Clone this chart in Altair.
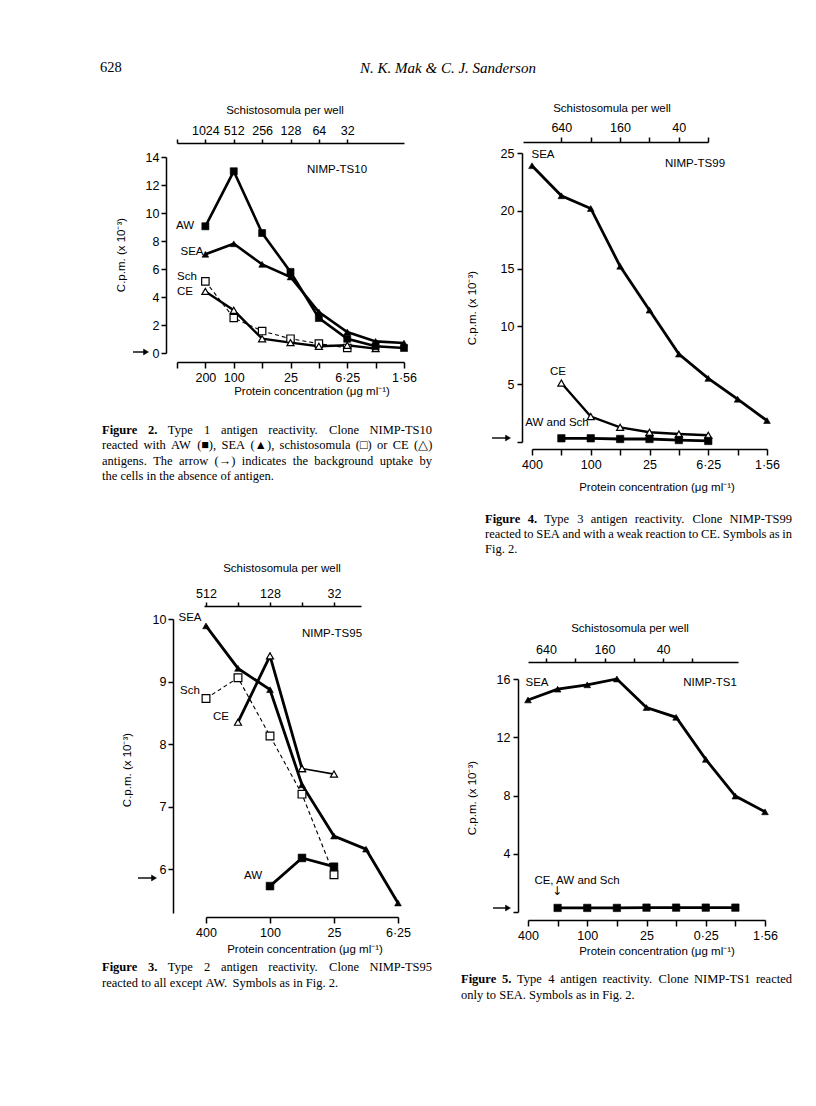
import altair as alt
import pandas as pd

M = 8                     # page margin
W, H = 800, 1090          # drawing area
SANS = "Liberation Sans"
SERIF = "Liberation Serif"

# ---------------- Figure 2 : NIMP-TS10 ----------------
f2_aw_conc = [200, 100, 50, 25, 12.5, 6.25, 3.125, 1.5625]
f2_aw = [9.05, 12.98, 8.57, 5.79, 2.50, 1.02, 0.48, 0.36]
f2_sea_conc = [200, 100, 50, 25, 12.5, 6.25, 3.125, 1.5625]
f2_sea = [7.05, 7.80, 6.33, 5.43, 2.93, 1.50, 0.83, 0.71]
f2_sch_conc = [200, 100, 50, 25, 12.5, 6.25]
f2_sch = [5.12, 2.50, 1.57, 1.02, 0.67, 0.36]
f2_ce_conc = [200, 100, 50, 25, 12.5, 6.25, 3.125]
f2_ce = [4.40, 3.05, 1.02, 0.74, 0.48, 0.55, 0.31]
f2_x_ticks = [400, 200, 100, 50, 25, 12.5, 6.25, 3.125, 1.5625]
f2_x_labels = ["", "200", "100", "", "25", "", "6·25", "", "1·56"]
f2_top_ticks = [2048, 1024, 512, 256, 128, 64, 32]
f2_top_labels = ["", "1024", "512", "256", "128", "64", "32"]
f2_y_ticks = [0, 2, 4, 6, 8, 10, 12, 14]
f2_y_labels = ["0", "2", "4", "6", "8", "10", "12", "14"]

# ---------------- Figure 4 : NIMP-TS99 ----------------
f4_sea_conc = [400, 200, 100, 50, 25, 12.5, 6.25, 3.125, 1.5625]
f4_sea = [23.9, 21.3, 20.2, 15.2, 11.4, 7.6, 5.5, 3.7, 1.85]
f4_ce_conc = [200, 100, 50, 25, 12.5, 6.25]
f4_ce = [5.1, 2.2, 1.27, 0.84, 0.69, 0.58]
f4_awsch_conc = [200, 100, 50, 25, 12.5, 6.25]
f4_awsch = [0.32, 0.32, 0.26, 0.26, 0.17, 0.09]
f4_x_ticks = [400, 200, 100, 50, 25, 12.5, 6.25, 3.125, 1.5625]
f4_x_labels = ["400", "", "100", "", "25", "", "6·25", "", "1·56"]
f4_top_ticks = [640, 320, 160, 80, 40, 20]
f4_top_labels = ["640", "", "160", "", "40", ""]
f4_y_ticks = [0, 5, 10, 15, 20, 25]
f4_y_labels = ["", "5", "10", "15", "20", "25"]

# ---------------- Figure 3 : NIMP-TS95 ----------------
f3_sea_conc = [400, 200, 100, 50, 25, 12.5, 6.25]
f3_sea = [9.89, 9.21, 8.87, 7.35, 6.53, 6.32, 5.46]
f3_sch_conc = [400, 200, 100, 50, 25]
f3_sch = [8.73, 9.06, 8.13, 7.20, 5.91]
f3_ce_conc = [200, 100, 50, 25]
f3_ce = [8.35, 9.41, 7.61, 7.52]
f3_aw_conc = [100, 50, 25]
f3_aw = [5.73, 6.18, 6.04]
f3_x_ticks = [400, 100, 25, 6.25]
f3_x_labels = ["400", "100", "25", "6·25"]
f3_top_ticks = [512, 256, 128, 64, 32]
f3_top_labels = ["512", "", "128", "", "32"]
f3_y_ticks = [6, 7, 8, 9, 10]
f3_y_labels = ["6", "7", "8", "9", "10"]

# ---------------- Figure 5 : NIMP-TS1 ----------------
f5_sea_conc = [400, 200, 100, 50, 25, 12.5, 6.25, 3.125, 1.5625]
f5_sea = [14.56, 15.3, 15.6, 16.0, 14.04, 13.37, 10.48, 7.96, 6.88]
f5_rest_conc = [200, 100, 50, 25, 12.5, 6.25, 3.125]
f5_rest = [0.28, 0.28, 0.28, 0.30, 0.30, 0.30, 0.30]
f5_x_ticks = [400, 200, 100, 50, 25, 12.5, 6.25, 3.125, 1.5625]
f5_x_labels = ["400", "", "100", "", "25", "", "0·25", "", "1·56"]
f5_top_ticks = [640, 320, 160, 80, 40, 20]
f5_top_labels = ["640", "", "160", "", "40", ""]
f5_y_ticks = [0, 4, 8, 12, 16]
f5_y_labels = ["", "4", "8", "12", "16"]

# ---------------- captions ----------------
cap2 = ["Figure 2.", "Type 1 antigen reactivity. Clone NIMP-TS10",
        "reacted with AW (■), SEA (▲), schistosomula (□) or CE (△)",
        "antigens. The arrow (→) indicates the background uptake by",
        "the cells in the absence of antigen."]
cap4 = ["Figure 4.", "Type 3 antigen reactivity. Clone NIMP-TS99",
        "reacted to SEA and with a weak reaction to CE. Symbols as in",
        "Fig. 2."]
cap3 = ["Figure 3.", "Type 2 antigen reactivity. Clone NIMP-TS95",
        "reacted to all except AW. Symbols as in Fig. 2."]
cap5 = ["Figure 5.", "Type 4 antigen reactivity. Clone NIMP-TS1 reacted",
        "only to SEA. Symbols as in Fig. 2."]


# ---------------- helpers ----------------
def lexpr(values, labels):
    expr = "''"
    for v, l in zip(values, labels):
        expr = f"abs(datum.value - {v}) < 1e-6 ? '{l}' : ({expr})"
    return expr


def axis(orient, offset, values, labels, tick=5, pad=2, size=12.5):
    return alt.Axis(orient=orient, offset=offset, values=values,
                    labelExpr=lexpr(values, labels), title="", grid=False,
                    domainColor="black", domainWidth=1.5, tickColor="black",
                    tickWidth=1.5, tickSize=tick, labelPadding=pad,
                    labelFont=SANS, labelFontSize=size, labelColor="black",
                    labelFlush=False, labelOverlap=False, labelAngle=0)


def logx(domain, r0, r1):
    return alt.Scale(type="log", base=2, domain=domain, range=[r0 - M, r1 - M], nice=False)


def liny(domain, r0, r1):
    return alt.Scale(type="linear", domain=domain, range=[r0 - M, r1 - M], nice=False)


def series(conc, vals, xs, ys, xa, ya, shape, filled, lw=2.6, dash=None, size=50):
    df = pd.DataFrame({"conc": conc, "cpm": vals})
    enc = dict(x=alt.X("conc:Q", scale=xs, axis=xa), y=alt.Y("cpm:Q", scale=ys, axis=ya))
    lp = dict(color="black", strokeWidth=lw)
    if dash:
        lp["strokeDash"] = dash
    line = alt.Chart(df).mark_line(**lp).encode(**enc)
    if filled:
        pt = alt.Chart(df).mark_point(shape=shape, filled=True, fill="black", stroke="black",
                                      strokeWidth=0.6, size=size, opacity=1).encode(**enc)
    else:
        pt = alt.Chart(df).mark_point(shape=shape, filled=True, fill="white", stroke="black",
                                      strokeWidth=1.2, size=size, opacity=1).encode(**enc)
    return line, pt


def top_axis(ticks, labels, domain, r0, r1, ypos, tick=4, pad=2):
    df = pd.DataFrame({"s": ticks})
    return alt.Chart(df).mark_point(opacity=0).encode(
        x=alt.X("s:Q", scale=logx(domain, r0, r1),
                axis=axis("top", -(ypos - M), ticks, labels, tick=tick, pad=pad)))


def txt(s, x, y, size=11.5, font=SANS, align="center", baseline="middle", angle=0,
        weight="normal", style="normal"):
    return alt.Chart(pd.DataFrame({"t": [s]})).mark_text(
        align=align, baseline=baseline, font=font, fontSize=size, fontWeight=weight,
        fontStyle=style, angle=angle, color="black").encode(
        x=alt.value(x - M), y=alt.value(y - M), text="t:N")


def arrow(x0, x1, y):
    d = pd.DataFrame({"a": [0]})
    shaft = alt.Chart(d).mark_rule(color="black", strokeWidth=1.4).encode(
        x=alt.value(x0 - M), x2=alt.value(x1 - 4 - M), y=alt.value(y - M))
    head = alt.Chart(d).mark_point(shape="triangle-right", filled=True, fill="black",
                                   stroke="black", strokeWidth=0.5, size=34, opacity=1).encode(
        x=alt.value(x1 - 3 - M), y=alt.value(y - M))
    return [shaft, head]


def panel(spec_list):
    lines = [s[0] for s in spec_list]
    pts = [s[1] for s in spec_list]
    return alt.layer(*lines, *pts)


# Times (Liberation Serif) advance widths, per 1000 em
TR = {" ": 250, "(": 333, ")": 333, ",": 250, "-": 333, ".": 250, ":": 278,
      "■": 604, "□": 604, "▲": 990, "△": 770, "→": 1000}
TR.update({d: 500 for d in "0123456789"})
TR.update(dict(zip("ABCDEFGHIJKLMNOPQRSTUVWXYZ",
                   [722, 667, 667, 722, 611, 556, 722, 722, 333, 389, 722, 611, 889,
                    722, 722, 556, 722, 667, 556, 611, 722, 722, 944, 722, 722, 611])))
TR.update(dict(zip("abcdefghijklmnopqrstuvwxyz",
                   [444, 500, 444, 500, 444, 333, 500, 500, 278, 278, 500, 278, 778,
                    500, 500, 500, 500, 333, 389, 278, 500, 500, 722, 500, 500, 444])))
TB = dict(TR)
TB.update({"F": 611, "u": 556, "r": 444, "e": 444, "g": 500, "i": 278})
CAP = 12.5


def wlen(s, bold=False):
    tab = TB if bold else TR
    return sum(tab.get(c, 500) for c in s) * CAP / 1000.0


def paragraph(cap, x0, colw, ys):
    out = []
    lines = [[(w, True) for w in cap[0].split(" ")] + [(w, False) for w in cap[1].split(" ")]]
    lines += [[(w, False) for w in ln.split(" ")] for ln in cap[2:]]
    for i, (words, yy) in enumerate(zip(lines, ys)):
        last = i == len(lines) - 1
        total = sum(wlen(w, b) for w, b in words)
        gap = wlen(" ") if (last or len(words) < 2) else (colw - total) / (len(words) - 1)
        x = x0
        for w, b in words:
            out.append(txt(w, x, yy, size=CAP, font=SERIF, align="left",
                           weight="bold" if b else "normal"))
            x += wlen(w, b) + gap
    return out


layers = []

# ---------------- Figure 2 panel ----------------
xs2 = logx([400, 1.5625], 177, 404)
ys2 = liny([0, 14], 353, 157)
xa2 = axis("bottom", (362 - M) - H, f2_x_ticks, f2_x_labels, tick=6, pad=3)
ya2 = axis("left", -(166 - M), f2_y_ticks, f2_y_labels, tick=5, pad=2)
layers.append(panel([
    series(f2_sch_conc, f2_sch, xs2, ys2, xa2, ya2, "square", False, lw=1.1, dash=[4, 3], size=55),
    series(f2_ce_conc, f2_ce, xs2, ys2, xa2, ya2, "triangle-up", False, lw=2.4, size=50),
    series(f2_sea_conc, f2_sea, xs2, ys2, xa2, ya2, "triangle-up", True, lw=2.6, size=45),
    series(f2_aw_conc, f2_aw, xs2, ys2, xa2, ya2, "square", True, lw=2.6, size=50),
]))
layers.append(top_axis(f2_top_ticks, f2_top_labels, [2048, 8], 177, 404, 143))

# ---------------- Figure 4 panel ----------------
xs4 = logx([400, 1.5625], 532, 767)
ys4 = liny([0, 25], 442, 153)
xa4 = axis("bottom", (449 - M) - H, f4_x_ticks, f4_x_labels, tick=6, pad=3)
ya4 = axis("left", -(522 - M), f4_y_ticks, f4_y_labels, tick=5, pad=3)
layers.append(panel([
    series(f4_ce_conc, f4_ce, xs4, ys4, xa4, ya4, "triangle-up", False, lw=2.4, size=50),
    series(f4_sea_conc, f4_sea, xs4, ys4, xa4, ya4, "triangle-up", True, lw=2.8, size=45),
    series(f4_awsch_conc, f4_awsch, xs4, ys4, xa4, ya4, "square", True, lw=2.8, size=55),
]))
layers.append(top_axis(f4_top_ticks, f4_top_labels, [1582, 20], 523, 708, 142, tick=5, pad=3))

# ---------------- Figure 3 panel ----------------
xs3 = logx([400, 6.25], 206, 398)
ys3 = liny([5.3, 10], 913, 619)
xa3 = axis("bottom", (917 - M) - H, f3_x_ticks, f3_x_labels, tick=6, pad=3)
ya3 = axis("left", -(173 - M), f3_y_ticks, f3_y_labels, tick=5, pad=2)
layers.append(panel([
    series(f3_sch_conc, f3_sch, xs3, ys3, xa3, ya3, "square", False, lw=1.1, dash=[4, 3], size=60),
    series(f3_ce_conc[:3], f3_ce[:3], xs3, ys3, xa3, ya3, "triangle-up", False, lw=2.8, size=50),
    series(f3_ce_conc[2:], f3_ce[2:], xs3, ys3, xa3, ya3, "triangle-up", False, lw=1.6, size=50),
    series(f3_sea_conc, f3_sea, xs3, ys3, xa3, ya3, "triangle-up", True, lw=2.8, size=45),
    series(f3_aw_conc, f3_aw, xs3, ys3, xa3, ya3, "square", True, lw=2.8, size=60),
]))
layers.append(top_axis(f3_top_ticks, f3_top_labels, [534, 17.8], 204, 361, 606))

# ---------------- Figure 5 panel ----------------
xs5 = logx([400, 1.5625], 528, 765)
ys5 = liny([0, 16], 912, 679)
xa5 = axis("bottom", (920 - M) - H, f5_x_ticks, f5_x_labels, tick=6, pad=3)
ya5 = axis("left", -(518 - M), f5_y_ticks, f5_y_labels, tick=5, pad=3)
layers.append(panel([
    series(f5_rest_conc, f5_rest, xs5, ys5, xa5, ya5, "square", True, lw=2.8, size=55),
    series(f5_sea_conc, f5_sea, xs5, ys5, xa5, ya5, "triangle-up", True, lw=2.8, size=45),
]))
layers.append(top_axis(f5_top_ticks, f5_top_labels, [979, 6.8], 528, 738, 662))

# ---------------- panel texts ----------------
YT = "C.p.m. (x 10⁻³)"
XT = "Protein concentration (μg ml⁻¹)"
TT = "Schistosomula per well"
texts = [
    # Figure 2
    txt(TT, 285, 111), txt(XT, 312, 392), txt(YT, 122, 255, angle=270),
    txt("NIMP-TS10", 337, 170), txt("AW", 185, 226), txt("SEA", 192, 252),
    txt("Sch", 187, 277), txt("CE", 185, 292),
    # Figure 4
    txt(TT, 612, 109), txt(XT, 657, 488), txt(YT, 473, 308, angle=270),
    txt("SEA", 543, 155), txt("NIMP-TS99", 695, 164), txt("CE", 558, 372),
    txt("AW and Sch", 557, 423),
    # Figure 3
    txt(TT, 282, 569), txt(XT, 305, 950), txt(YT, 128, 770, angle=270),
    txt("SEA", 190, 618), txt("NIMP-TS95", 332, 634), txt("Sch", 190, 691),
    txt("CE", 221, 717), txt("AW", 253, 876),
    # Figure 5
    txt(TT, 630, 629), txt(XT, 657, 952), txt(YT, 473, 798, angle=270),
    txt("SEA", 537, 683), txt("NIMP-TS1", 710, 683), txt("CE, AW and Sch", 577, 881),
    txt("↓", 557, 891, size=12, font="DejaVu Sans"),
    # page header
    txt("628", 100, 68, size=14.5, font=SERIF, align="left"),
    txt("N. K. Mak & C. J. Sanderson", 448, 68, size=15, font=SERIF, style="italic"),
]
texts += arrow(133, 149, 352) + arrow(492, 511, 438) + arrow(138, 157, 878) + arrow(493, 511, 908)

texts += paragraph(cap2, 102, 330, [430, 445, 461, 476])
texts += paragraph(cap4, 485, 307, [519, 534, 549])
texts += paragraph(cap3, 102, 330, [967, 983])
texts += paragraph(cap5, 461, 331, [979, 995])

chart = alt.layer(*layers, *texts).resolve_scale(
    x="independent", y="independent"
).resolve_axis(
    x="independent", y="independent"
).properties(
    width=W, height=H, autosize=alt.AutoSizeParams(type="none"), padding=0
).configure_view(stroke="transparent")

chart.save("out.html", embed_options={"renderer": "svg", "actions": False})
